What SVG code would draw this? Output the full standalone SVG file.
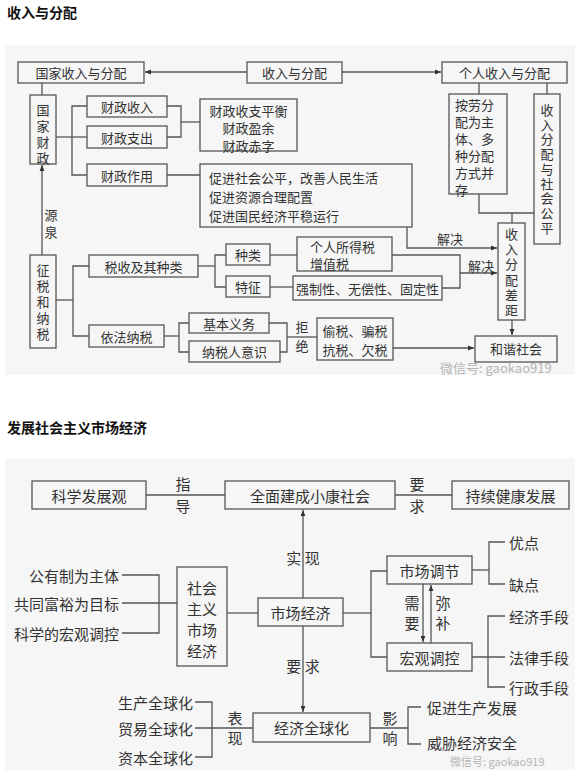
<svg xmlns="http://www.w3.org/2000/svg" width="577" height="770" viewBox="0 0 577 770">
<defs>
<marker id="arr" viewBox="0 0 10 10" refX="10" refY="5" markerWidth="6" markerHeight="6" markerUnits="userSpaceOnUse" orient="auto">
<path d="M0,1 L10,5 L0,9 z" fill="#333"/>
</marker>
<style>
.panel{fill:#f6f6f6;stroke:none}
.box{fill:none;stroke:#555;stroke-width:1.3}
.ln{fill:none;stroke:#555;stroke-width:1.3}
.ar{fill:none;stroke:#555;stroke-width:1.3;marker-end:url(#arr)}
text{font-family:"Noto Sans CJK SC","Noto Sans",sans-serif;fill:#333}
.t{font-size:13px;text-anchor:middle;dominant-baseline:central}
.tl{font-size:13px;text-anchor:start;dominant-baseline:central}
.b{font-size:15px;text-anchor:middle;dominant-baseline:central}
.bl{font-size:15px;text-anchor:start;dominant-baseline:central}
.br{font-size:15px;text-anchor:end;dominant-baseline:central}
.v{writing-mode:vertical-rl;text-orientation:upright}
.title{font-size:14px;font-weight:bold;fill:#111}
.wm{fill:#b5b5b5}
</style>
</defs>
<rect class="panel" x="5" y="45" width="570" height="330"/>
<rect class="panel" x="5" y="458" width="570" height="312"/>
<text class="title" x="7" y="18">收入与分配</text>
<text class="title" x="7" y="433">发展社会主义市场经济</text>

<g id="connectors">
<line class="ar" x1="247" y1="72" x2="145" y2="72"/>
<line class="ar" x1="342" y1="72" x2="441" y2="72"/>
<line class="ln" x1="42" y1="83" x2="42" y2="95"/>
<polyline class="ln" points="56,137 72,137"/>
<polyline class="ln" points="87,106 72,106 72,175 87,175"/>
<line class="ln" x1="72" y1="137" x2="87" y2="137"/>
<polyline class="ln" points="167,106 181,106 181,137 167,137"/>
<line class="ln" x1="181" y1="122" x2="200" y2="122"/>
<line class="ln" x1="167" y1="175" x2="200" y2="175"/>
<polyline class="ar" points="407,227 407,248 497,248"/>
<line class="ln" x1="479" y1="83" x2="479" y2="94"/>
<line class="ln" x1="547" y1="83" x2="547" y2="94"/>
<polyline class="ln" points="479,194 479,213 534,213"/>
<line class="ln" x1="512" y1="213" x2="512" y2="223"/>
<line class="ar" x1="512" y1="320" x2="512" y2="335"/>
<line class="ar" x1="42" y1="255" x2="42" y2="165"/>
<line class="ln" x1="56" y1="300" x2="73" y2="300"/>
<polyline class="ln" points="89,266 73,266 73,336 89,336"/>
<line class="ln" x1="198" y1="266" x2="215" y2="266"/>
<polyline class="ln" points="226,255 215,255 215,287 226,287"/>
<line class="ln" x1="270" y1="255" x2="297" y2="255"/>
<polyline class="ln" points="392,255 460,255 460,288 442,288"/>
<line class="ar" x1="460" y1="273" x2="497" y2="273"/>
<line class="ln" x1="270" y1="287" x2="293" y2="287"/>
<line class="ln" x1="164" y1="336" x2="179" y2="336"/>
<polyline class="ln" points="189,323 179,323 179,352 189,352"/>
<polyline class="ln" points="269,323 287,323 287,352 280,352"/>
<line class="ln" x1="287" y1="337" x2="317" y2="337"/>
<line class="ar" x1="393" y1="348" x2="474" y2="348"/>

<line class="ln" x1="146" y1="495" x2="225" y2="495"/>
<line class="ln" x1="395" y1="495" x2="452" y2="495"/>
<line class="ar" x1="303" y1="598" x2="303" y2="510"/>
<line class="ar" x1="303" y1="626" x2="303" y2="712"/>
<line class="ln" x1="227" y1="613" x2="258" y2="613"/>
<polyline class="ln" points="122,575 159,575 159,633 122,633"/>
<line class="ln" x1="122" y1="603" x2="177" y2="603"/>
<line class="ln" x1="343" y1="613" x2="371" y2="613"/>
<polyline class="ln" points="387,571 371,571 371,657 387,657"/>
<line class="ar" x1="423" y1="584" x2="423" y2="642"/>
<line class="ar" x1="431" y1="643" x2="431" y2="585"/>
<line class="ln" x1="472" y1="570" x2="489" y2="570"/>
<polyline class="ln" points="505,542 489,542 489,584 505,584"/>
<line class="ln" x1="472" y1="657" x2="505" y2="657"/>
<polyline class="ln" points="505,616 488,616 488,687 505,687"/>
<polyline class="ln" points="195,702 212,702 212,757 195,757"/>
<line class="ln" x1="195" y1="728" x2="253" y2="728"/>
<line class="ln" x1="370" y1="728" x2="408" y2="728"/>
<polyline class="ln" points="421,707 408,707 408,744 421,744"/>

<text class="t" x="450" y="238">解决</text>
<text class="t" x="481" y="265">解决</text>
<text class="t v" x="51" y="225.5" letter-spacing="4">源泉</text>
<text class="t v" x="302" y="339.5" letter-spacing="6">拒绝</text>
<text class="b v" x="183" y="498.5" letter-spacing="7">指导</text>
<text class="b v" x="417" y="498.5" letter-spacing="7">要求</text>
<text class="b" x="303" y="557">实 现</text>
<text class="b" x="303" y="665">要 求</text>
<text class="b v" x="412" y="615.5" letter-spacing="5">需要</text>
<text class="b v" x="443" y="615.5" letter-spacing="5">弥补</text>
<text class="b v" x="235" y="730.5" letter-spacing="5">表现</text>
<text class="b v" x="390" y="730.5" letter-spacing="5">影响</text>
</g>

<g id="n-guojiashouru"><rect class="box" x="18" y="62" width="126" height="21"/><text class="t" x="81" y="72.5">国家收入与分配</text></g>
<g id="n-shouru"><rect class="box" x="247" y="62" width="95" height="21"/><text class="t" x="294.5" y="72.5">收入与分配</text></g>
<g id="n-gerenshouru"><rect class="box" x="442" y="62" width="125" height="21"/><text class="t" x="504.5" y="72.5">个人收入与分配</text></g>
<g id="n-guojiacaizheng"><rect class="box" x="30" y="95" width="26" height="69"/>
<text class="t v" x="43" y="135.5" letter-spacing="3">国家财政</text></g>
<g id="n-czsr"><rect class="box" x="87" y="96" width="80" height="21"/><text class="t" x="127" y="106.5">财政收入</text></g>
<g id="n-czzc"><rect class="box" x="87" y="126" width="80" height="22"/><text class="t" x="127" y="137">财政支出</text></g>
<g id="n-czzy"><rect class="box" x="87" y="164" width="80" height="22"/><text class="t" x="127" y="175">财政作用</text></g>
<g id="n-pingheng"><rect class="box" x="200" y="99" width="97" height="52"/>
<text class="t" font-size="12"><tspan x="248.5" y="109.5">财政收支平衡</tspan><tspan x="248.5" y="127">财政盈余</tspan><tspan x="248.5" y="144.5">财政赤字</tspan></text></g>
<g id="n-cujin"><rect class="box" x="200" y="164" width="212" height="63"/>
<text class="tl"><tspan x="209" y="177">促进社会公平，改善人民生活</tspan><tspan x="209" y="196">促进资源合理配置</tspan><tspan x="209" y="215">促进国民经济平稳运行</tspan></text></g>
<g id="n-anlao"><rect class="box" x="449" y="94" width="58" height="100"/>
<text class="tl" font-size="11.6"><tspan x="455" y="104">按劳分</tspan><tspan x="455" y="121">配为主</tspan><tspan x="455" y="138">体、多</tspan><tspan x="455" y="155">种分配</tspan><tspan x="455" y="172">方式并</tspan><tspan x="455" y="189">存</tspan></text></g>
<g id="n-gongping"><rect class="box" x="534" y="94" width="26" height="150"/>
<text class="t v" x="547" y="169.9" letter-spacing="1.75">收入分配与社会公平</text></g>
<g id="n-chaju"><rect class="box" x="498" y="223" width="27" height="97"/>
<text class="t v" x="511.5" y="273.1" letter-spacing="2.2">收入分配差距</text></g>
<g id="n-hexie"><rect class="box" x="475" y="336" width="82" height="26"/><text class="t" x="516" y="348">和谐社会</text></g>
<g id="n-zhengshui"><rect class="box" x="30" y="255" width="26" height="93"/>
<text class="t v" x="43" y="303.5" letter-spacing="3">征税和纳税</text></g>
<g id="n-shuishou"><rect class="box" x="89" y="255" width="109" height="22"/><text class="t" x="143.5" y="266">税收及其种类</text></g>
<g id="n-yifa"><rect class="box" x="89" y="325" width="75" height="22"/><text class="t" x="126.5" y="336">依法纳税</text></g>
<g id="n-zhonglei"><rect class="box" x="226" y="244" width="44" height="21"/><text class="t" x="248" y="254.5">种类</text></g>
<g id="n-tezheng"><rect class="box" x="226" y="276" width="44" height="21"/><text class="t" x="248" y="286.5">特征</text></g>
<g id="n-suodeshui"><rect class="box" x="297" y="237" width="95" height="34"/>
<text class="tl" font-size="12.5"><tspan x="310" y="245.5">个人所得税</tspan><tspan x="310" y="263">增值税</tspan></text></g>
<g id="n-qiangzhi"><rect class="box" x="293" y="276" width="149" height="24"/><text class="t" x="367.5" y="288">强制性、无偿性、固定性</text></g>
<g id="n-yiwu"><rect class="box" x="189" y="313" width="80" height="20"/><text class="t" x="229" y="323">基本义务</text></g>
<g id="n-yishi"><rect class="box" x="189" y="341" width="91" height="21"/><text class="t" x="234.5" y="351.5">纳税人意识</text></g>
<g id="n-toushui"><rect class="box" x="317" y="318" width="76" height="42"/>
<text class="t" font-size="12.5"><tspan x="355" y="330">偷税、骗税</tspan><tspan x="355" y="349">抗税、欠税</tspan></text></g>
<text class="wm" x="440" y="373" font-size="13">微信号: gaokao919</text>

<g id="n-kexue"><rect class="box" x="32" y="481" width="114" height="28"/><text class="b" x="89" y="495">科学发展观</text></g>
<g id="n-xiaokang"><rect class="box" x="225" y="481" width="170" height="28"/><text class="b" x="310" y="495">全面建成小康社会</text></g>
<g id="n-chixu"><rect class="box" x="452" y="481" width="117" height="28"/><text class="b" x="510.5" y="495">持续健康发展</text></g>
<g id="n-shichang"><rect class="box" x="258" y="598" width="85" height="28"/><text class="b" x="300.5" y="612">市场经济</text></g>
<g id="n-shzy"><rect class="box" x="177" y="567" width="50" height="99"/>
<text class="b" font-size="14"><tspan x="202" y="587">社会</tspan><tspan x="202" y="608">主义</tspan><tspan x="202" y="629">市场</tspan><tspan x="202" y="650">经济</tspan></text></g>
<g id="n-tezheng2"><text class="br" x="119" y="575">公有制为主体</text><text class="br" x="119" y="603">共同富裕为目标</text><text class="br" x="119" y="633">科学的宏观调控</text></g>
<g id="n-sctj"><rect class="box" x="387" y="556" width="85" height="28"/><text class="b" x="429.5" y="570">市场调节</text></g>
<g id="n-hgtk"><rect class="box" x="387" y="643" width="85" height="28"/><text class="b" x="429.5" y="657">宏观调控</text></g>
<g id="n-youque"><text class="bl" x="509" y="542">优点</text><text class="bl" x="509" y="584">缺点</text></g>
<g id="n-shouduan"><text class="bl" x="509" y="616">经济手段</text><text class="bl" x="509" y="657">法律手段</text><text class="bl" x="509" y="687">行政手段</text></g>
<g id="n-quanqiu"><rect class="box" x="253" y="713" width="117" height="29"/><text class="b" x="311.5" y="727.5">经济全球化</text></g>
<g id="n-biaoxian"><text class="br" x="193" y="702">生产全球化</text><text class="br" x="193" y="728">贸易全球化</text><text class="br" x="193" y="757">资本全球化</text></g>
<g id="n-yingxiang"><text class="bl" x="427" y="707">促进生产发展</text><text class="bl" x="427" y="742">威胁经济安全</text></g>
<text class="wm" x="450" y="766" font-size="11">微信号: gaokao919</text>
</svg>
